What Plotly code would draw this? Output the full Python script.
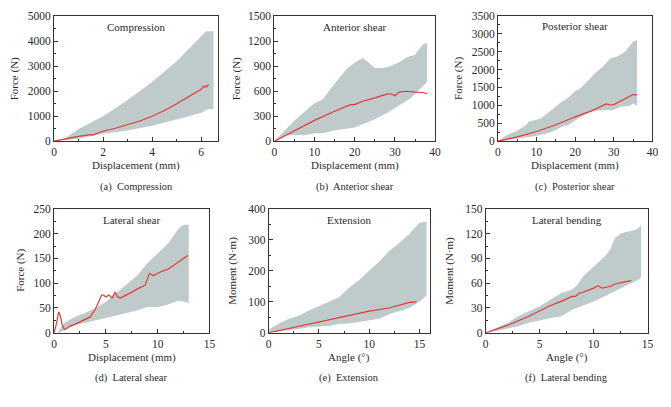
import plotly.graph_objects as go

W, H = 671, 407

# ---------------- data ----------------
# (a) Compression
a_up_x = [0, 0.3, 1, 1.5, 2, 3, 4, 5, 6, 6.2, 6.5, 6.5]
a_up_y = [0, 30, 490, 750, 1000, 1650, 2370, 3200, 4180, 4400, 4400, 1270]
a_lo_x = [0, 1, 2, 3, 4, 5, 5.5, 6, 6.3, 6.5]
a_lo_y = [0, 100, 300, 430, 620, 880, 1000, 1140, 1300, 1270]
a_mx = [0, 0.5, 1, 1.5, 1.6, 1.7, 2, 2.5, 3, 3.5, 4, 4.5, 5, 5.5, 6, 6.1, 6.2, 6.3]
a_my = [0, 110, 190, 260, 250, 300, 400, 520, 650, 810, 1000, 1230, 1500, 1780, 2080, 2200, 2170, 2270]

# (b) Anterior shear
b_up_x = [0, 5, 10, 12, 15, 18, 20, 22, 23, 25, 27, 29, 31, 33, 35, 37, 38, 38]
b_up_y = [0, 250, 460, 500, 690, 870, 945, 1000, 965, 880, 880, 905, 945, 1010, 1040, 1165, 1180, 710]
b_lo_x = [0, 3, 6, 8, 10, 12, 15, 18, 20, 22, 25, 28, 30, 32, 34, 36, 38]
b_lo_y = [0, 70, 70, 75, 95, 95, 130, 150, 165, 205, 265, 340, 400, 460, 520, 615, 710]
b_mx = [0, 5, 10, 15, 19, 20, 22, 25, 28, 29, 30, 31, 33, 35, 37, 38]
b_my = [0, 130, 250, 360, 440, 440, 480, 520, 565, 570, 545, 590, 600, 590, 585, 570]

# (c) Posterior shear
c_up_x = [0, 2, 5, 7, 8, 10, 11, 13, 16, 18, 20, 21, 23, 25, 27, 29, 31, 33, 35, 36, 36]
c_up_y = [0, 150, 300, 430, 540, 610, 630, 790, 1060, 1200, 1400, 1440, 1650, 1890, 2060, 2300, 2370, 2510, 2780, 2820, 990]
c_lo_x = [0, 5, 8, 10, 13, 15, 17, 18, 19, 22, 25, 28, 30, 32, 34, 35, 36]
c_lo_y = [0, 70, 120, 150, 230, 310, 430, 440, 520, 720, 850, 860, 880, 970, 980, 1050, 990]
c_mx = [0, 5, 10, 15, 20, 25, 28, 29, 30, 35, 36]
c_my = [0, 120, 270, 460, 680, 880, 1040, 1010, 1020, 1300, 1290]

# (d) Lateral shear
d_up_x = [0, 0.3, 1, 2, 3, 4, 5, 6, 7, 8, 9, 10, 11, 12, 12.5, 13, 13]
d_up_y = [0, 0, 20, 32, 40, 50, 62, 80, 98, 115, 140, 160, 180, 210, 218, 218, 60]
d_lo_x = [0, 0.5, 1, 2, 3, 4, 5, 6, 7, 8, 9, 10, 11, 12, 12.5, 13]
d_lo_y = [0, 0, 5, 15, 20, 25, 30, 35, 40, 45, 52, 52, 57, 65, 63, 60]
d_mx = [0, 0.2, 0.45, 0.6, 0.8, 1.0, 1.2, 1.5, 2, 2.5, 3, 3.5, 4, 4.3, 4.6, 4.8, 5, 5.3, 5.6,
        5.9, 6.1, 6.4, 7, 7.5, 8, 8.8, 9.2, 9.6, 10, 10.5, 11, 11.5, 12, 12.5, 12.9]
d_my = [0, 15, 42, 35, 15, 7, 8, 13, 17, 22, 27, 32, 48, 62, 76, 76, 72, 76, 70,
        82, 73, 70, 76, 82, 88, 96, 120, 115, 120, 125, 128, 135, 143, 150, 156]

# (e) Extension
e_up_x = [0, 1, 2, 3, 4, 5, 6, 7, 8, 9, 10, 11, 12, 13, 14, 15, 15.7, 15.7]
e_up_y = [10, 30, 45, 55, 72, 85, 100, 115, 145, 170, 200, 230, 265, 290, 320, 355, 358, 120]
e_lo_x = [0, 1, 2, 3, 4, 5, 6, 7, 8, 9, 10, 11, 12, 13, 14, 15, 15.7]
e_lo_y = [0, 3, 8, 12, 18, 20, 22, 28, 30, 37, 40, 45, 60, 70, 80, 100, 120]
e_mx = [0, 2, 5, 8, 10, 12, 14, 14.7]
e_my = [0, 14, 35, 57, 70, 80, 98, 100]

# (f) Lateral bending
f_up_x = [0, 1, 2, 3, 4, 5, 6, 7, 8, 8.5, 9, 10, 11, 11.5, 12, 12.5, 13, 14, 14.4, 14.4]
f_up_y = [0, 6, 12, 20, 26, 32, 40, 48, 52, 58, 68, 80, 92, 100, 115, 120, 122, 125, 130, 67]
f_lo_x = [0, 1, 2, 3, 4, 5, 6, 7, 8, 9, 10, 11, 12, 13, 14, 14.4]
f_lo_y = [0, 2, 5, 8, 12, 15, 18, 20, 28, 33, 38, 44, 50, 57, 63, 67]
f_mx = [0, 2, 4, 5, 6, 7, 8, 8.3, 8.7, 9, 10, 10.4, 10.8, 11.5, 12, 13, 13.5]
f_my = [0, 9, 20, 26, 33, 38, 44, 44, 48, 49, 54, 57, 54, 56, 59, 62, 63]

titles = ["Compression", "Anterior shear", "Posterior shear",
          "Lateral shear", "Extension", "Lateral bending"]
captions = ["(a)  Compression", "(b)  Anterior shear", "(c)  Posterior shear",
            "(d)  Lateral shear", "(e)  Extension", "(f)  Lateral bending"]
xtitles = ["Displacement (mm)"] * 4 + ["Angle (°)"] * 2
ytitles = ["Force (N)"] * 4 + ["Moment (N·m)"] * 2

# ---------------- layout geometry (pixels) ----------------
panels = [
    dict(l=51.7, r=218.3, t=10.7, b=139.3, xr=[0, 6.7], xd=2, xm=1, yr=[0, 5000], yd=1000, ym=500, ytx=11.7),
    dict(l=275, r=438, t=10.7, b=139.3, xr=[0, 40], xd=10, xm=5, yr=[0, 1500], yd=300, ym=150, ytx=236.7),
    dict(l=501.7, r=658.3, t=10.0, b=139.3, xr=[0, 40], xd=10, xm=5, yr=[0, 3500], yd=500, ym=250, ytx=461.7),
    dict(l=51.7, r=209.3, t=209, b=336.7, xr=[0, 15], xd=5, xm=2.5, yr=[0, 250], yd=50, ym=25, ytx=18.3),
    dict(l=269.3, r=432.3, t=209, b=336.7, xr=[0, 16], xd=5, xm=2.5, yr=[0, 400], yd=100, ym=50, ytx=233),
    dict(l=489.3, r=653.3, t=209, b=336.7, xr=[0, 15], xd=5, xm=2.5, yr=[0, 150], yd=30, ym=15, ytx=453),
]

bands = [(a_up_x, a_up_y, a_lo_x, a_lo_y), (b_up_x, b_up_y, b_lo_x, b_lo_y),
         (c_up_x, c_up_y, c_lo_x, c_lo_y), (d_up_x, d_up_y, d_lo_x, d_lo_y),
         (e_up_x, e_up_y, e_lo_x, e_lo_y), (f_up_x, f_up_y, f_lo_x, f_lo_y)]
means = [(a_mx, a_my), (b_mx, b_my), (c_mx, c_my), (d_mx, d_my), (e_mx, e_my), (f_mx, f_my)]

FONT = "Liberation Serif"
BAND = "#bfcbcb"
RED = "#e03a33"
AXC = "#333333"
TXT = "#2a2a2a"
FS = 11

fig = go.Figure()
annotations = []
for i, p in enumerate(panels):
    n = "" if i == 0 else str(i + 1)
    xa, ya = "x" + n, "y" + n
    ux, uy, lx, ly = bands[i]
    fig.add_trace(go.Scatter(x=list(ux) + list(lx)[::-1], y=list(uy) + list(ly)[::-1],
                             fill="toself", fillcolor=BAND, line=dict(width=0),
                             mode="lines", hoverinfo="skip", showlegend=False,
                             xaxis=xa, yaxis=ya))
    mx, my = means[i]
    fig.add_trace(go.Scatter(x=mx, y=my, mode="lines", line=dict(color=RED, width=1.2),
                             showlegend=False, xaxis=xa, yaxis=ya))
    axcommon = dict(showgrid=False, zeroline=False, showline=True, linecolor=AXC, linewidth=1,
                    mirror=True, ticks="inside", ticklen=4, tickcolor=AXC,
                    tickfont=dict(family=FONT, size=11.5, color=TXT))
    fig.layout["xaxis" + n] = dict(axcommon, domain=[p["l"] / W, p["r"] / W], range=p["xr"],
                                   dtick=p["xd"], tick0=0, anchor=ya,
                                   minor=dict(ticks="inside", ticklen=2, dtick=p["xm"], tickcolor=AXC))
    fig.layout["yaxis" + n] = dict(axcommon, domain=[1 - p["b"] / H, 1 - p["t"] / H], range=p["yr"],
                                   dtick=p["yd"], tick0=0, anchor=xa,
                                   minor=dict(ticks="inside", ticklen=2, dtick=p["ym"], tickcolor=AXC))
    cx = (p["l"] + p["r"]) / 2
    annotations.append(dict(text=titles[i], x=cx / W, y=1 - (p["t"] + 11) / H, xref="paper", yref="paper",
                            showarrow=False, xanchor="center", yanchor="middle",
                            font=dict(family=FONT, size=FS, color=TXT)))
    annotations.append(dict(text=xtitles[i], x=cx / W, y=1 - (p["b"] + 25.5) / H, xref="paper", yref="paper",
                            showarrow=False, xanchor="center", yanchor="middle",
                            font=dict(family=FONT, size=FS, color=TXT)))
    annotations.append(dict(text=captions[i], x=cx / W, y=1 - (p["b"] + 47) / H, xref="paper", yref="paper",
                            showarrow=False, xanchor="center", yanchor="middle",
                            font=dict(family=FONT, size=10.5, color=TXT)))
    annotations.append(dict(text=ytitles[i], x=p["ytx"] / W, y=1 - (p["t"] + p["b"]) / 2 / H,
                            xref="paper", yref="paper", showarrow=False, textangle=-90,
                            xanchor="center", yanchor="middle",
                            font=dict(family=FONT, size=FS, color=TXT)))

fig.update_layout(width=W, height=H, margin=dict(l=0, r=0, t=0, b=0),
                  paper_bgcolor="white", plot_bgcolor="white", annotations=annotations)
fig.write_html("out.html", config={"displayModeBar": False},
               post_script="document.body.style.margin='0px';")
